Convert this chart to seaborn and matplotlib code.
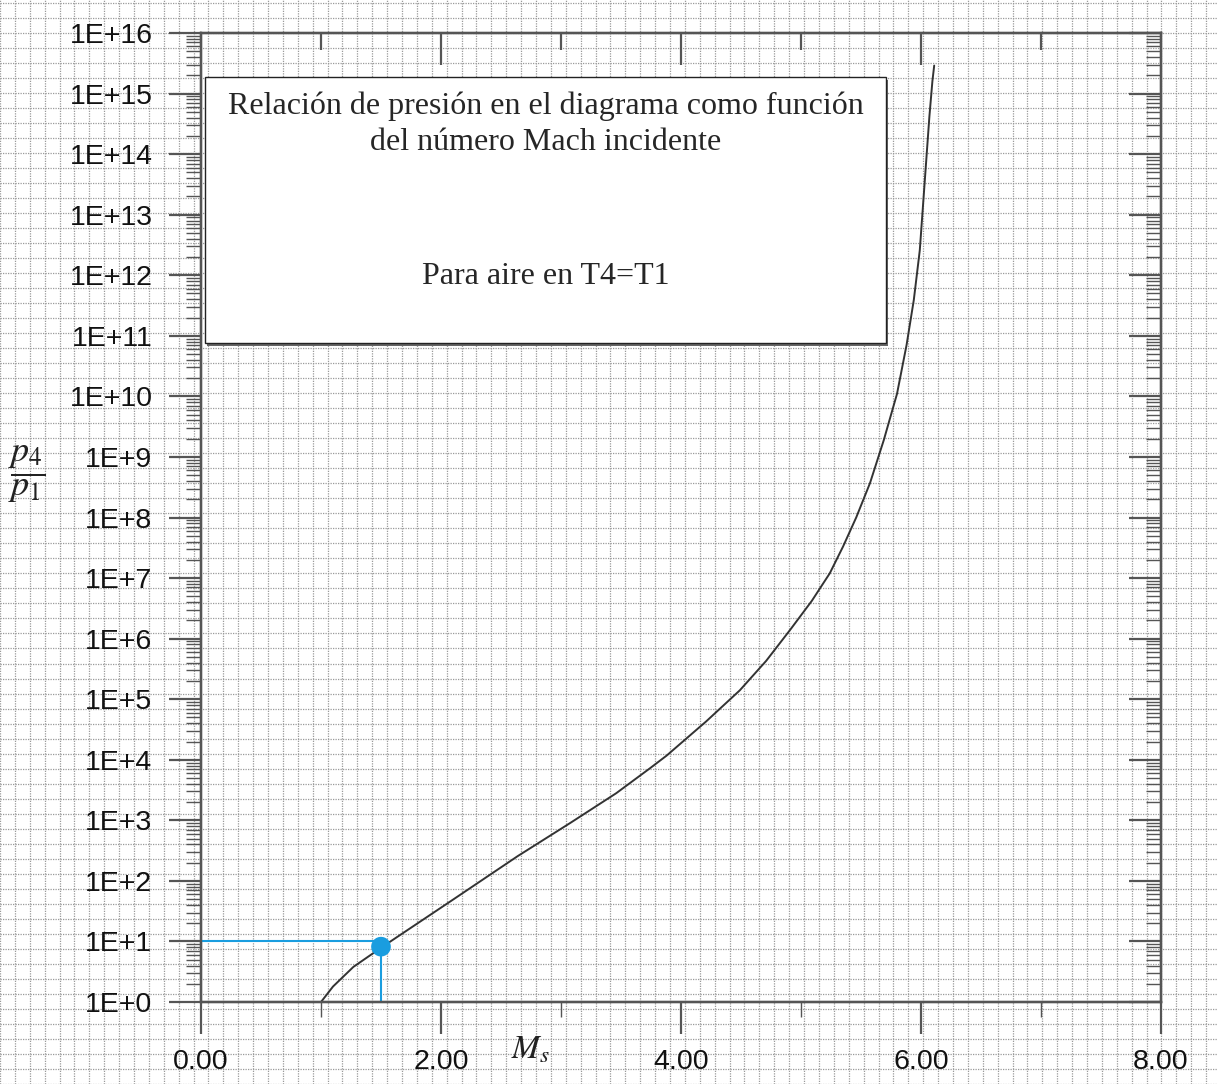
import matplotlib
matplotlib.use("Agg")
import matplotlib.pyplot as plt
import matplotlib.ticker as mticker
from matplotlib.patches import Rectangle
import numpy as np
import pandas as pd
import seaborn as sns

# curve: incident Mach number vs p4/p1
mach = [1.00, 1.10, 1.27, 1.51, 2.10, 2.64, 3.08, 3.46, 3.74, 3.88, 4.21,
        4.49, 4.71, 4.91, 5.09, 5.24, 5.35, 5.46, 5.575, 5.69, 5.80, 5.88,
        5.94, 5.99, 6.03, 6.07, 6.095, 6.11]
p_ratio = [1.0, 1.8, 3.8, 8.1, 49, 257, 912, 2.8e3, 7.2e3, 1.17e4, 4.3e4,
           1.4e5, 4.3e5, 1.4e6, 4.2e6, 1.2e7, 3.3e7, 1.0e8, 3.7e8, 1.9e9,
           1.1e10, 7.1e10, 3.9e11, 2.6e12, 3.3e13, 4.2e14, 1.6e15, 2.9e15]

# highlighted point
mark_ms = [1.5]
mark_p = [8.2]
guide_p = 10.0

x_ticks = [0, 2, 4, 6, 8]
x_labels = ["0.00", "2.00", "4.00", "6.00", "8.00"]
y_exps = list(range(0, 17))
y_labels = [f"1E+{e}" for e in y_exps]

title_text = "Relación de presión en el diagrama como función\ndel número Mach incidente"
note_text = "Para aire en T4=T1"

sns.set_style("white")
plt.rcParams["font.family"] = ["Liberation Sans", "DejaVu Sans"]
plt.rcParams["mathtext.fontset"] = "stix"

W, H = 1217, 1084
fig = plt.figure(figsize=(W / 100, H / 100), dpi=100)

# graph-paper background
bg = fig.add_axes([0, 0, 1, 1], zorder=0)
bg.set_xlim(0, W)
bg.set_ylim(0, H)
bg.set_xticks(np.arange(201 - 15 * 14, W, 15.0))
bg.set_yticks(np.arange(82 - 15.14 * 6, H, 15.14))
bg.grid(True, color="#9a9a9a", linestyle=(0, (1, 1)), linewidth=0.9)
bg.tick_params(left=False, bottom=False, labelleft=False, labelbottom=False)
for s in bg.spines.values():
    s.set_visible(False)

L, R, B, T = 201 / W, 1161 / W, 82 / H, 1051 / H
ax = fig.add_axes([L, B, R - L, T - B], zorder=2)
ax.set_facecolor("none")
ax.set_yscale("log")
ax.set_xlim(0, 8)
ax.set_ylim(1, 1e16)

df = pd.DataFrame({"Ms": mach, "p": p_ratio})
sns.lineplot(data=df, x="Ms", y="p", ax=ax, color="#333333", linewidth=1.4,
             sort=False, zorder=4)
for ln in ax.lines:
    ln.set_clip_on(False)

blue = "#1a9ddf"
ax.hlines(guide_p, 0, mark_ms[0], color=blue, linewidth=1.5, zorder=3)
ax.vlines(mark_ms[0], 1, guide_p * 0.9, color=blue, linewidth=1.5, zorder=3)
sns.scatterplot(x=mark_ms, y=mark_p, ax=ax, color=blue, s=200,
                edgecolor="none", zorder=5)

spine_c = "#555555"
minor_loc = lambda: mticker.LogLocator(base=10, subs=np.arange(2, 10),
                                       numticks=400)

ax.set_xticks(x_ticks)
ax.set_xticklabels(x_labels)
ax.xaxis.set_minor_locator(mticker.FixedLocator([1, 3, 5, 7]))
ax.set_yticks([10.0 ** e for e in y_exps])
ax.set_yticklabels(y_labels)
ax.yaxis.set_minor_locator(minor_loc())
ax.yaxis.set_minor_formatter(mticker.NullFormatter())
ax.tick_params(which="major", direction="out", length=23, width=1.6,
               color=spine_c, labelsize=20.5, labelcolor="#111111")
ax.tick_params(which="minor", direction="out", length=11, width=1.0,
               color=spine_c)
ax.tick_params(axis="x", which="major", pad=11)
ax.tick_params(axis="y", which="major", pad=12)
ax.set_xlabel("")
ax.set_ylabel("")

# right side: inward ticks
axr = ax.twinx()
axr.set_yscale("log")
axr.set_ylim(1, 1e16)
axr.set_yticks([10.0 ** e for e in y_exps])
axr.yaxis.set_minor_locator(minor_loc())
axr.tick_params(which="major", direction="in", length=23, width=1.6,
                color=spine_c, labelright=False)
axr.tick_params(which="minor", direction="in", length=11, width=1.0,
                color=spine_c, labelright=False)
axr.set_facecolor("none")

# top side: inward ticks
axt = ax.twiny()
axt.set_xlim(0, 8)
axt.set_xticks([2, 4, 6])
axt.xaxis.set_minor_locator(mticker.FixedLocator([1, 3, 5, 7]))
axt.tick_params(which="major", direction="in", length=23, width=1.6,
                color=spine_c, labeltop=False)
axt.tick_params(which="minor", direction="in", length=12, width=1.6,
                color=spine_c, labeltop=False)
for a in (ax, axr, axt):
    for s in a.spines.values():
        s.set_color(spine_c)
        s.set_linewidth(1.6)

# text box with shadow
bx0, bx1 = (205 - 201) / 960, (886 - 201) / 960
by0, by1 = (1002 - 343) / 969, (1002 - 77) / 969
ax.add_patch(Rectangle((bx0 + 0.002, by0 - 0.003), bx1 - bx0, by1 - by0,
                       transform=ax.transAxes, facecolor="#666666",
                       edgecolor="none", zorder=6))
ax.add_patch(Rectangle((bx0, by0), bx1 - bx0, by1 - by0,
                       transform=ax.transAxes, facecolor="white",
                       edgecolor="#222222", linewidth=1.0, zorder=7))
cx = ((205 + 886) / 2 - 201) / 960
ax.text(cx, (1002 - 124) / 969, title_text, transform=ax.transAxes,
        ha="center", va="center", fontsize=23, family="Liberation Serif",
        linespacing=1.3, zorder=8)
ax.text(cx, (1002 - 277) / 969, note_text, transform=ax.transAxes,
        ha="center", va="center", fontsize=23, family="Liberation Serif",
        zorder=8)

# axis labels
fig.text(27 / W, 1 - 474 / H, r"$\dfrac{p_4}{p_1}$", ha="center", va="center",
         fontsize=26, color="#222222")
fig.text(530 / W, 1 - 1050 / H, r"$M_s$", ha="center", va="center",
         fontsize=24, color="#222222")

fig.savefig("out.png", dpi=100)
